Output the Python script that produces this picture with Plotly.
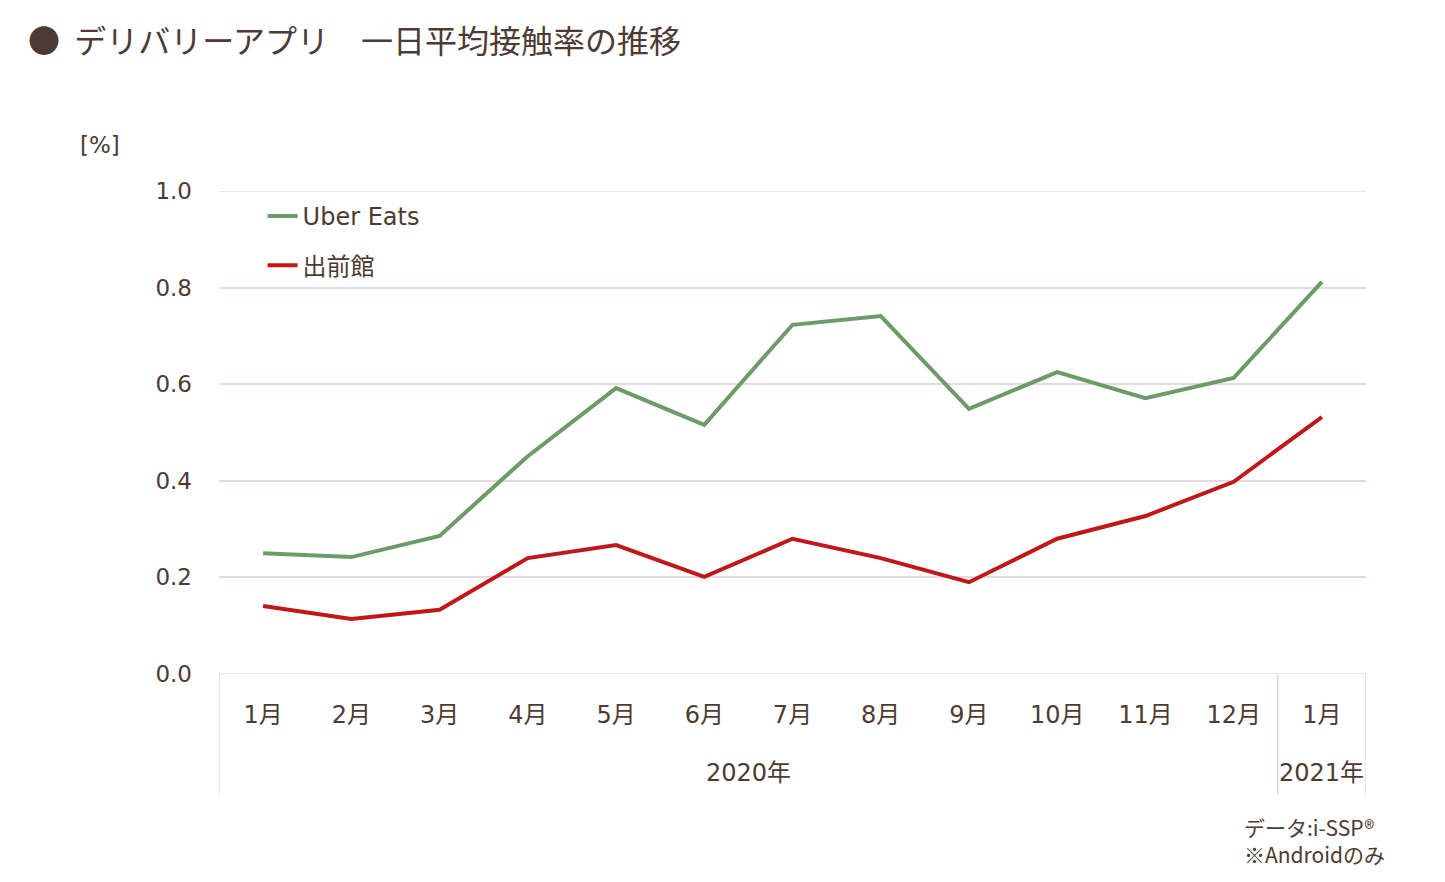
import plotly.graph_objects as go

months = ["1月", "2月", "3月", "4月", "5月", "6月", "7月", "8月", "9月", "10月", "11月", "12月", "1月"]
uber_eats = [0.250, 0.242, 0.286, 0.451, 0.592, 0.516, 0.723, 0.741, 0.549, 0.625, 0.571, 0.613, 0.812]
demaekan = [0.141, 0.114, 0.133, 0.240, 0.267, 0.201, 0.280, 0.240, 0.190, 0.280, 0.327, 0.398, 0.532]
years = ["2020年", "2021年"]
y_ticks = [0.0, 0.2, 0.4, 0.6, 0.8, 1.0]

FONT = "DejaVu Sans, Noto Sans CJK JP, sans-serif"
CJK = "Noto Sans CJK JP, sans-serif"
TXT = "#4D3B33"
GRID = "#E6DADA"

x = list(range(len(months)))

fig = go.Figure()
fig.add_trace(go.Scatter(x=x, y=uber_eats, mode="lines", name="Uber Eats",
                         line=dict(color="#6E9A6A", width=4), legendgroup="a"))
fig.add_trace(go.Scatter(x=x, y=demaekan, mode="lines", name="出前館",
                         line=dict(color="#C0181A", width=4), legendgroup="b"))

fig.update_layout(
    width=1445, height=882,
    margin=dict(l=219, r=79, t=191, b=208),
    paper_bgcolor="white", plot_bgcolor="white",
    font=dict(family=FONT, color=TXT, size=23),
    showlegend=True,
    legend=dict(x=0.038, y=0.994, xanchor="left", yanchor="top",
                font=dict(size=24, color=TXT, family=FONT), tracegroupgap=15,
                itemwidth=30, bgcolor="rgba(0,0,0,0)"),
    xaxis=dict(range=[-0.5, len(months) - 0.5], tickmode="array", tickvals=x, ticktext=months,
               showgrid=False, zeroline=False, showline=False, ticks="",
               ticklabelstandoff=24, tickfont=dict(size=24, color=TXT, family=FONT), fixedrange=True),
    yaxis=dict(range=[0, 1.0], tickmode="array", tickvals=y_ticks, tickformat=".1f",
               showgrid=True, gridcolor=GRID, gridwidth=1.5, zeroline=False, showline=False,
               ticks="", ticklabelstandoff=26, tickfont=dict(size=23, color=TXT, family=FONT),
               fixedrange=True),
)

# top gridline, baseline and category dividers
for yv in [y_ticks[0], y_ticks[-1]]:
    fig.add_shape(type="line", xref="x", yref="y", x0=-0.5, x1=len(months) - 0.5, y0=yv, y1=yv,
                  line=dict(color=GRID, width=1.5), layer="below")
for xv in [-0.5, len(months) - 1.5, len(months) - 0.5]:
    fig.add_shape(type="line", xref="x", yref="paper", x0=xv, x1=xv, y0=0, y1=-0.25,
                  line=dict(color=GRID, width=1.5))

# year labels
fig.add_annotation(x=(len(months) - 2) / 2, y=-(773 - 674) / 483, xref="x", yref="paper", text=years[0],
                   showarrow=False, font=dict(size=24, color=TXT, family=FONT), yanchor="middle")
fig.add_annotation(x=len(months) - 1, y=-(773 - 674) / 483, xref="x", yref="paper", text=years[1],
                   showarrow=False, font=dict(size=24, color=TXT, family=FONT), yanchor="middle")

# title
fig.add_annotation(x=-219 / 1147 + 26 / 1147, y=1 + (191 - 39) / 483, xref="paper", yref="paper",
                   text="●  デリバリーアプリ　一日平均接触率の推移",
                   showarrow=False, xanchor="left", yanchor="middle",
                   font=dict(size=32, color=TXT, family=CJK))
fig.add_annotation(x=-219 / 1147 + 78 / 1147, y=1 + (191 - 145) / 483, xref="paper", yref="paper",
                   text="[%]", showarrow=False, xanchor="left", yanchor="middle",
                   font=dict(size=23, color=TXT, family=FONT))
fig.add_annotation(x=(1387 - 219) / 1147, y=-(840 - 674) / 483, xref="paper", yref="paper",
                   text="データ:i-SSP®<br>※Androidのみ", showarrow=False, xanchor="right",
                   yanchor="middle", align="left",
                   font=dict(size=21, color=TXT, family=CJK))

fig.write_html("out.html")
